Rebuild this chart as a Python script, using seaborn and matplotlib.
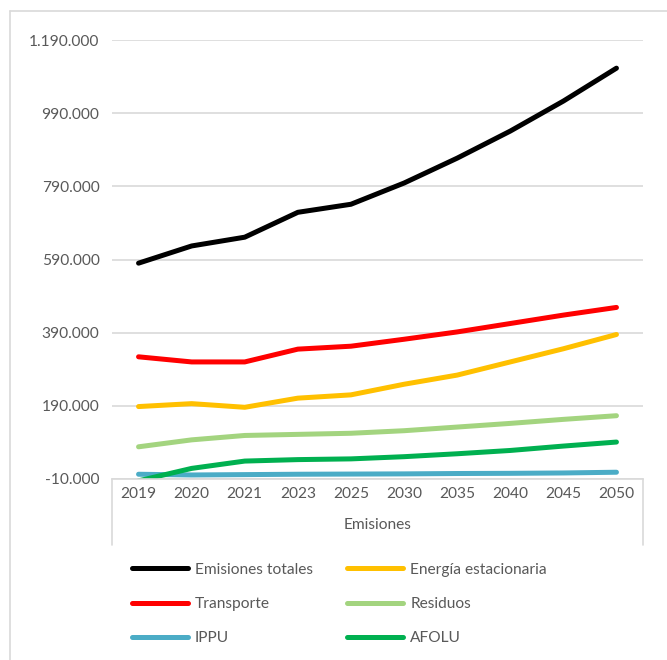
import pandas as pd
import matplotlib.pyplot as plt
import seaborn as sns
from matplotlib.lines import Line2D

# Datos (emisiones)
years = ['2019', '2020', '2021', '2023', '2025', '2030', '2035', '2040', '2045', '2050']
emisiones_totales = [580000, 627000, 651000, 719000, 741000, 799000, 867000, 941000, 1023000, 1113000]
energia_estacionaria = [188000, 196000, 186000, 211000, 220000, 249000, 274000, 310000, 346000, 385000]
transporte = [324000, 310000, 310000, 345000, 353000, 372000, 392000, 415000, 438000, 459000]
residuos = [78000, 97000, 109000, 112000, 115000, 122000, 132000, 142000, 153000, 163000]
ippu = [3000, 1000, 2000, 3000, 3500, 4000, 5000, 5500, 6500, 8500]
afolu = [-15000, 19000, 39000, 43000, 45000, 51000, 59000, 68000, 80000, 91000]

series = {
    'Emisiones totales': emisiones_totales,
    'Energía estacionaria': energia_estacionaria,
    'Transporte': transporte,
    'Residuos': residuos,
    'IPPU': ippu,
    'AFOLU': afolu,
}
colors = {
    'Emisiones totales': '#000000',
    'Energía estacionaria': '#FFC000',
    'Transporte': '#FF0000',
    'Residuos': '#A3D47F',
    'IPPU': '#4BACC6',
    'AFOLU': '#00B050',
}

rows = []
for name, vals in series.items():
    for y, v in zip(years, vals):
        rows.append({'Año': y, 'Valor': v, 'Serie': name})
df = pd.DataFrame(rows)

sns.set_style('white')
plt.rcParams['font.family'] = ['Lato', 'DejaVu Sans']
text_color = '#595959'
grid_color = '#D9D9D9'
fs = 11.2

fig = plt.figure(figsize=(6.67, 6.60), dpi=100)
ax = fig.add_axes([112 / 667, 1 - 479 / 660, (643 - 112) / 667, (479 - 40) / 660])

sns.lineplot(data=df, x='Año', y='Valor', hue='Serie', palette=colors,
             linewidth=3.6, ax=ax, legend=False, sort=False)
for line in ax.get_lines():
    line.set_solid_capstyle('round')

ax.set_xlim(-0.5, len(years) - 0.5)
ax.set_ylim(-10000, 1190000)
yticks = list(range(-10000, 1190001, 200000))
ax.set_yticks(yticks)
ax.set_yticklabels([f'{t:,}'.replace(',', '.') for t in yticks])
ax.yaxis.grid(True, color=grid_color, linewidth=1.2)
ax.set_axisbelow(True)
ax.tick_params(axis='both', length=0, labelsize=fs, colors=text_color)
ax.tick_params(axis='y', pad=9)
ax.tick_params(axis='x', pad=6)
ax.set_xlabel('Emisiones', color=text_color, fontsize=fs, labelpad=12)
ax.set_ylabel('')

for s in ['top', 'right', 'left']:
    ax.spines[s].set_visible(False)
ax.spines['bottom'].set_color(grid_color)
ax.spines['bottom'].set_linewidth(1.2)

# caja de la categoria (estilo Excel multinivel)
for xa in (0, 1):
    ax.plot([xa, xa], [0, -0.15], transform=ax.transAxes, color=grid_color,
            linewidth=1.2, clip_on=False)

# borde del area del grafico
fig.add_artist(Line2D([10 / 667, 10 / 667], [0, 1 - 11 / 660], color=grid_color, linewidth=1.2))
fig.add_artist(Line2D([10 / 667, 1], [1 - 11 / 660, 1 - 11 / 660], color=grid_color, linewidth=1.2))

# leyenda
order = ['Emisiones totales', 'Transporte', 'IPPU', 'Energía estacionaria', 'Residuos', 'AFOLU']
handles = [Line2D([0], [0], color=colors[n], linewidth=3.6, solid_capstyle='round') for n in order]
fig.legend(handles, order, ncol=2, loc='center', bbox_to_anchor=(0.5 + 6 / 667, 1 - 604 / 660),
           frameon=False, fontsize=fs, labelcolor=text_color, handlelength=3.6,
           handletextpad=0.45, columnspacing=2.2, labelspacing=1.3)

fig.savefig('out.png', dpi=100)
